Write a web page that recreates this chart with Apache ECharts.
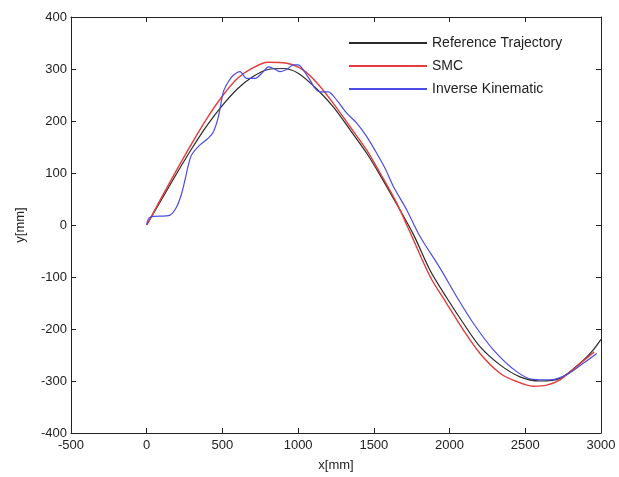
<!DOCTYPE html>
<html>
<head>
    <meta charset="UTF-8"/>
    <title>Trajectory</title>
    <script src="https://cdn.jsdelivr.net/npm/echarts@6/dist/echarts.min.js"></script>
    <style>
        html, body { margin: 0; padding: 0; background: #fff; }
        #charts { width: 619px; height: 477px; }
    </style>
</head>
<body>
<div id="charts"></div>
<script>
    // 坐标轴刻度
    var xTicks = [-500, 0, 500, 1000, 1500, 2000, 2500, 3000];
    var yTicks = [-400, -300, -200, -100, 0, 100, 200, 300, 400];

    // Reference Trajectory
    var refX = [0, 100, 200, 300, 400, 500, 600, 700, 800, 900, 1000, 1122, 1232, 1343, 1453, 1541, 1651, 1761, 1871, 1981, 2091, 2201, 2333, 2465, 2597, 2729, 2861, 2949, 3000];
    var refY = [0, 50, 100, 148, 192, 230, 262, 285, 299, 301, 292, 262, 227, 183, 138, 96, 40, -18, -87, -140, -189, -234, -269, -292, -300, -295, -266, -240, -220];

    // SMC
    var smcX = [0, 100, 200, 300, 400, 500, 600, 700, 800, 924, 1034, 1122, 1232, 1343, 1453, 1541, 1651, 1739, 1871, 1981, 2091, 2201, 2333, 2443, 2553, 2641, 2729, 2839, 2955];
    var smcY = [0, 54, 107, 158, 206, 248, 282, 302, 313, 311, 298, 274, 234, 189, 144, 100, 42, -14, -99, -151, -202, -247, -285, -301, -310, -308, -298, -272, -244];

    // Inverse Kinematic
    var ikX = [0, 22, 154, 198, 231, 253, 275, 297, 352, 407, 440, 473, 506, 540, 572, 616, 660, 715, 770, 803, 836, 880, 924, 968, 1001, 1034, 1078, 1111, 1144, 1199, 1255, 1321, 1387, 1453, 1519, 1574, 1629, 1717, 1805, 1937, 2047, 2157, 2289, 2443, 2553, 2663, 2773, 2883, 2972];
    var ikY = [2, 15, 19, 35, 61, 87, 115, 135, 154, 167, 179, 208, 256, 276, 288, 295, 282, 282, 295, 304, 301, 295, 299, 308, 308, 298, 279, 263, 256, 256, 240, 215, 196, 170, 138, 109, 74, 29, -22, -83, -138, -189, -240, -282, -297, -298, -288, -266, -247];

    function zip(xs, ys) {
        var out = [];
        for (var i = 0; i < xs.length; i++) out.push([xs[i], ys[i]]);
        return out;
    }

    var labelFont = {
        fontFamily: 'Liberation Sans, Arial, sans-serif',
        fontSize: 13,
        color: '#222'
    };

    function plain(v) { return String(v); }

    function axisBase(pos, lo, hi, step, withLabel) {
        return {
            type: 'value',
            position: pos,
            min: lo,
            max: hi,
            interval: step,
            axisLine: {show: true, onZero: false, lineStyle: {color: '#222', width: 1}},
            axisTick: {show: true, inside: true, length: 5, lineStyle: {color: '#222'}},
            axisLabel: withLabel ? Object.assign({formatter: plain}, labelFont) : {show: false},
            splitLine: {show: false}
        };
    }

    var xMain = axisBase('bottom', xTicks[0], xTicks[xTicks.length - 1], 500, true);
    xMain.axisLabel.margin = 6;
    xMain.name = 'x[mm]';
    xMain.nameLocation = 'middle';
    xMain.nameGap = 26;
    xMain.nameTextStyle = labelFont;

    var yMain = axisBase('left', yTicks[0], yTicks[yTicks.length - 1], 100, true);
    yMain.axisLabel.margin = 4;
    yMain.name = 'y[mm]';
    yMain.nameLocation = 'middle';
    yMain.nameGap = 44;
    yMain.nameTextStyle = labelFont;

    var myChart = echarts.init(document.getElementById('charts'));

    var option = {
        animation: false,
        backgroundColor: '#fff',
        grid: {left: 71, right: 18, top: 17, bottom: 44},
        legend: {
            orient: 'vertical',
            left: 343,
            top: 31,
            itemWidth: 78,
            itemHeight: 14,
            itemGap: 9,
            itemStyle: {opacity: 0},
            textStyle: {
                fontFamily: 'Liberation Sans, Arial, sans-serif',
                fontSize: 14,
                color: '#222'
            },
            data: ['Reference Trajectory', 'SMC', 'Inverse Kinematic']
        },
        xAxis: [xMain, axisBase('top', xTicks[0], xTicks[xTicks.length - 1], 500, false)],
        yAxis: [yMain, axisBase('right', yTicks[0], yTicks[yTicks.length - 1], 100, false)],
        series: [
            {
                name: 'Reference Trajectory',
                type: 'line',
                symbol: 'none',
                smooth: 0.3,
                xAxisIndex: 0,
                yAxisIndex: 0,
                itemStyle: {color: '#2a2a2a'},
                lineStyle: {color: '#2a2a2a', width: 1.2},
                data: zip(refX, refY)
            },
            {
                name: 'SMC',
                type: 'line',
                symbol: 'none',
                smooth: 0.3,
                xAxisIndex: 0,
                yAxisIndex: 0,
                itemStyle: {color: '#e23c3c'},
                lineStyle: {color: '#e23c3c', width: 1.4},
                data: zip(smcX, smcY)
            },
            {
                name: 'Inverse Kinematic',
                type: 'line',
                symbol: 'none',
                smooth: 0.3,
                xAxisIndex: 0,
                yAxisIndex: 0,
                itemStyle: {color: '#4b4be6'},
                lineStyle: {color: '#4b4be6', width: 1.2},
                data: zip(ikX, ikY)
            }
        ]
    };

    myChart.setOption(option);
</script>
</body>
</html>
